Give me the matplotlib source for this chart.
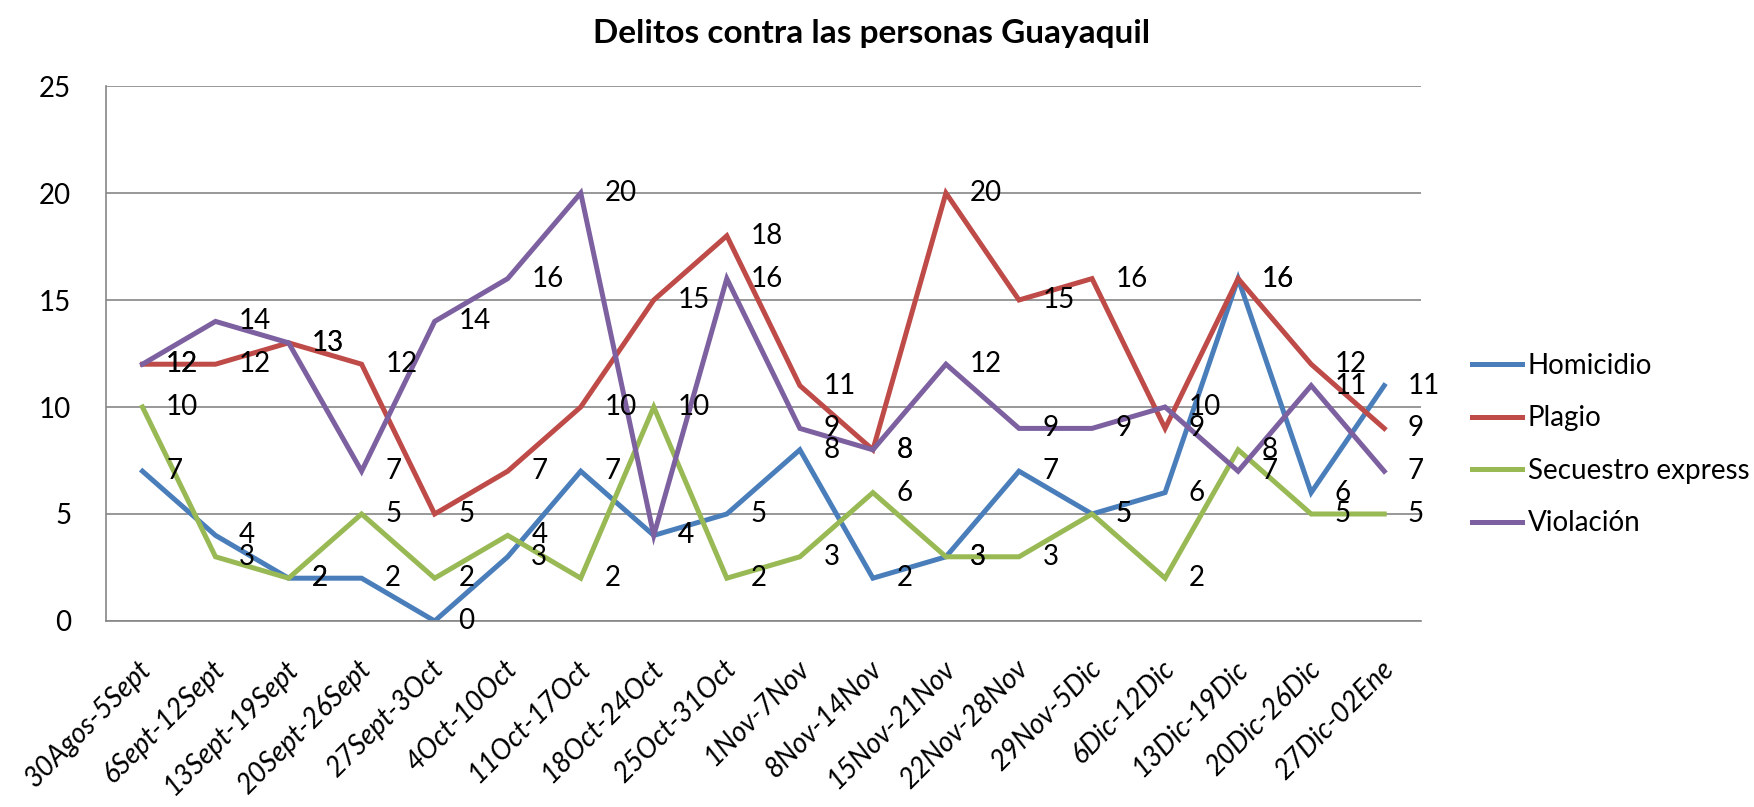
import matplotlib
matplotlib.use('Agg')
import matplotlib.pyplot as plt
from matplotlib.transforms import ScaledTranslation

# Data
weeks = ["30Agos-5Sept", "6Sept-12Sept", "13Sept-19Sept", "20Sept-26Sept", "27Sept-3Oct",
         "4Oct-10Oct", "11Oct-17Oct", "18Oct-24Oct", "25Oct-31Oct", "1Nov-7Nov",
         "8Nov-14Nov", "15Nov-21Nov", "22Nov-28Nov", "29Nov-5Dic", "6Dic-12Dic",
         "13Dic-19Dic", "20Dic-26Dic", "27Dic-02Ene"]
homicidio = [7, 4, 2, 2, 0, 3, 7, 4, 5, 8, 2, 3, 7, 5, 6, 16, 6, 11]
plagio = [12, 12, 13, 12, 5, 7, 10, 15, 18, 11, 8, 20, 15, 16, 9, 16, 12, 9]
secuestro = [10, 3, 2, 5, 2, 4, 2, 10, 2, 3, 6, 3, 3, 5, 2, 8, 5, 5]
violacion = [12, 14, 13, 7, 14, 16, 20, 4, 16, 9, 8, 12, 9, 9, 10, 7, 11, 7]

series = [("Homicidio", homicidio, "#4A7EBB"),
          ("Plagio", plagio, "#BE4B48"),
          ("Secuestro express", secuestro, "#98B954"),
          ("Violación", violacion, "#7D60A0")]

plt.rcParams['font.family'] = ['Lato', 'DejaVu Sans']

fig = plt.figure(figsize=(17.54, 8.07), dpi=100)
ax = fig.add_axes([0.0604, 0.2305, 0.7496, 0.6629])

x = list(range(len(weeks)))
for name, vals, color in series:
    ax.plot(x, vals, color=color, linewidth=3.6, label=name, solid_joinstyle='miter')
for name, vals, color in series:
    for xi, v in zip(x, vals):
        ax.annotate(str(v), (xi, v), xytext=(17, 0), textcoords='offset points',
                    ha='left', va='center', fontsize=20, color='black')

ax.set_xlim(-0.5, len(weeks) - 0.5)
ax.set_ylim(0, 25)
ax.set_yticks([0, 5, 10, 15, 20, 25])
ax.yaxis.grid(True, color='#868686', linewidth=1.2)
ax.set_axisbelow(True)
for s in ['top', 'right']:
    ax.spines[s].set_visible(False)
for s in ['left', 'bottom']:
    ax.spines[s].set_color('#868686')
    ax.spines[s].set_linewidth(1.2)
ax.tick_params(axis='both', length=0, labelsize=20)
ax.tick_params(axis='y', pad=25)
ax.tick_params(axis='x', pad=25)

ax.set_xticks(x)
ax.set_xticklabels(weeks, rotation=45, ha='right', rotation_mode='anchor',
                   fontstyle='italic', fontsize=20)
offset = ScaledTranslation(-4 / 100, 0, fig.dpi_scale_trans)
for lbl in ax.get_xticklabels():
    lbl.set_transform(lbl.get_transform() + offset)

fig.text(0.497, 0.958, "Delitos contra las personas Guayaquil", ha='center', va='center',
         fontsize=24, fontweight='bold')

fig.legend(loc='center left', bbox_to_anchor=(0.825, 0.449), frameon=False,
           fontsize=20, handlelength=1.8, handletextpad=0.2, labelspacing=0.95)

fig.savefig('out.png', dpi=100)
